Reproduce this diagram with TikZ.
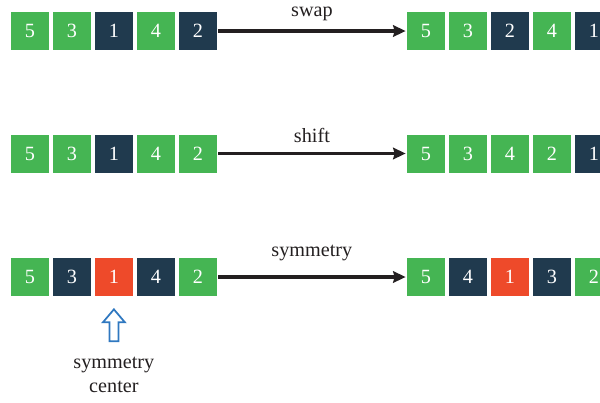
\documentclass[tikz,border=0pt]{standalone}
\usepackage{fontspec}
\setmainfont{Liberation Serif}
\usetikzlibrary{arrows.meta,positioning,calc}

\definecolor{cellgreen}{HTML}{45B553}
\definecolor{cellnavy}{HTML}{203A4E}
\definecolor{cellred}{HTML}{EE4A2A}
\definecolor{markblue}{HTML}{2F78C0}
\definecolor{inkgray}{HTML}{231F20}

\begin{document}
\begin{tikzpicture}[
  >={Stealth[length=0.25cm, width=0.23cm, inset=0.03cm]},
  node distance=0.065cm,
  cell/.style={minimum width=0.76cm, minimum height=0.76cm, inner sep=0pt, text=white, font=\fontsize{11.5}{13}\selectfont},
  grncell/.style={cell, fill=cellgreen},
  nvycell/.style={cell, fill=cellnavy},
  redcell/.style={cell, fill=cellred},
  opname/.style={text=inkgray, inner sep=0pt, font=\fontsize{11.5}{13}\selectfont},
  arrow/.style={->, line width=0.065cm, draw=inkgray, shorten <=0.02cm, shorten >=0.02cm},
  hollow/.style={draw=markblue, line width=1pt, fill=white, line join=miter}
]
  \useasboundingbox (0,0) rectangle (12,-8.04);

  % Swap
  \node[grncell] (swapin1) at (0.6,-0.62) {5};
  \node[grncell, right=of swapin1] (swapin2) {3};
  \node[nvycell, right=of swapin2] (swapin3) {1};
  \node[grncell, right=of swapin3] (swapin4) {4};
  \node[nvycell, right=of swapin4] (swapin5) {2};

  \node[grncell] (swapout1) at (8.52,-0.62) {5};
  \node[grncell, right=of swapout1] (swapout2) {3};
  \node[nvycell, right=of swapout2] (swapout3) {2};
  \node[grncell, right=of swapout3] (swapout4) {4};
  \node[nvycell, right=of swapout4] (swapout5) {1};

  % Shift
  \node[grncell] (shiftin1) at (0.6,-3.07) {5};
  \node[grncell, right=of shiftin1] (shiftin2) {3};
  \node[nvycell, right=of shiftin2] (shiftin3) {1};
  \node[grncell, right=of shiftin3] (shiftin4) {4};
  \node[grncell, right=of shiftin4] (shiftin5) {2};

  \node[grncell] (shiftout1) at (8.52,-3.07) {5};
  \node[grncell, right=of shiftout1] (shiftout2) {3};
  \node[grncell, right=of shiftout2] (shiftout3) {4};
  \node[grncell, right=of shiftout3] (shiftout4) {2};
  \node[nvycell, right=of shiftout4] (shiftout5) {1};

  % Symmetry
  \node[grncell] (symin1) at (0.6,-5.54) {5};
  \node[nvycell, right=of symin1] (symin2) {3};
  \node[redcell, right=of symin2] (symin3) {1};
  \node[nvycell, right=of symin3] (symin4) {4};
  \node[grncell, right=of symin4] (symin5) {2};

  \node[grncell] (symout1) at (8.52,-5.54) {5};
  \node[nvycell, right=of symout1] (symout2) {4};
  \node[redcell, right=of symout2] (symout3) {1};
  \node[nvycell, right=of symout3] (symout4) {3};
  \node[grncell, right=of symout4] (symout5) {2};

  % Operations
  \draw[arrow] (swapin5) -- node[opname, midway, anchor=base, yshift=0.30cm] (swaplbl) {swap} (swapout1);
  \draw[arrow] (shiftin5) -- node[opname, midway, anchor=base, yshift=0.23cm] (shiftlbl) {shift} (shiftout1);
  \draw[arrow] (symin5) -- node[opname, midway, anchor=base, yshift=0.42cm] (symlbl) {symmetry} (symout1);

  % Center marker
  \coordinate[below=0.26cm of symin3.south] (pin);
  \draw[hollow] (pin) -- ++(0.22,-0.26) -- ++(-0.13,0) -- ++(0,-0.38)
    -- ++(-0.18,0) -- ++(0,0.38) -- ++(-0.13,0) -- cycle;
  \node[opname, align=center, below=0.94cm of pin, anchor=north] (centerlbl) {symmetry\\[1pt]center};
\end{tikzpicture}
\end{document}
